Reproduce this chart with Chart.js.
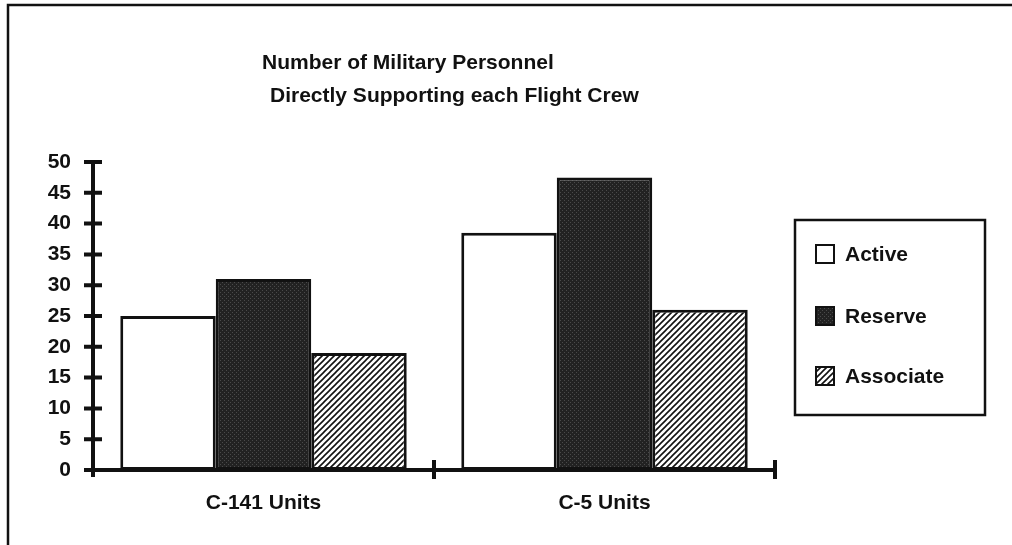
<!DOCTYPE html>
<html>
<head>
<meta charset="utf-8">
<script src="https://cdn.jsdelivr.net/npm/chart.js@4"></script>
<style>
  body { margin: 0; background: #fff; }
  canvas { display: block; }
</style>
</head>
<body>
<canvas id="myChart" width="1012" height="545"></canvas>
<script>
  const categories = ['C-141 Units', 'C-5 Units'];
  const seriesNames = ['Active', 'Reserve', 'Associate'];
  const active = [25, 38.5];
  const reserve = [31, 47.5];
  const associate = [19, 26];
  const yTicks = [0, 5, 10, 15, 20, 25, 30, 35, 40, 45, 50];
  const titleLines = ['Number of Military Personnel', 'Directly Supporting each Flight Crew'];

  const FONT = '"Liberation Sans", Arial, sans-serif';

  // fill textures
  function dotPattern() {
    const c = document.createElement('canvas');
    c.width = 4; c.height = 4;
    const g = c.getContext('2d');
    g.fillStyle = '#222';
    g.fillRect(0, 0, 4, 4);
    g.fillStyle = '#4a4a4a';
    g.fillRect(0, 0, 1, 1);
    g.fillRect(2, 2, 1, 1);
    return g.createPattern(c, 'repeat');
  }
  function hatchPattern() {
    const s = 6;
    const c = document.createElement('canvas');
    c.width = s; c.height = s;
    const g = c.getContext('2d');
    g.fillStyle = '#fff';
    g.fillRect(0, 0, s, s);
    g.strokeStyle = '#111';
    g.lineWidth = 1.6;
    g.beginPath();
    g.moveTo(-1, s + 1); g.lineTo(s + 1, -1);
    g.moveTo(-1, 1); g.lineTo(1, -1);
    g.moveTo(s - 1, s + 1); g.lineTo(s + 1, s - 1);
    g.stroke();
    return g.createPattern(c, 'repeat');
  }
  const fills = ['#ffffff', dotPattern(), hatchPattern()];

  const decor = {
    id: 'decor',
    beforeDraw(chart) {
      const ctx = chart.ctx;
      ctx.save();
      ctx.fillStyle = '#fff';
      ctx.fillRect(0, 0, chart.width, chart.height);
      // page frame (top and left only)
      ctx.strokeStyle = '#111';
      ctx.lineWidth = 2.5;
      ctx.beginPath();
      ctx.moveTo(8, chart.height);
      ctx.lineTo(8, 5);
      ctx.lineTo(chart.width, 5);
      ctx.stroke();
      // title
      ctx.fillStyle = '#111';
      ctx.font = 'bold 21px ' + FONT;
      ctx.textBaseline = 'alphabetic';
      ctx.fillText(titleLines[0], 262, 69);
      ctx.fillText(titleLines[1], 270, 102);
      ctx.restore();
    },
    afterDraw(chart) {
      const ctx = chart.ctx;
      const x = chart.scales.x, y = chart.scales.y;
      const a = chart.chartArea;
      ctx.save();
      ctx.strokeStyle = '#111';
      ctx.lineWidth = 4;
      ctx.beginPath();
      // y axis extends a little below the x axis
      ctx.moveTo(a.left, a.bottom);
      ctx.lineTo(a.left, a.bottom + 7);
      // crossing tick marks on y axis
      yTicks.forEach(v => {
        const py = y.getPixelForValue(v);
        ctx.moveTo(a.left - 9, py);
        ctx.lineTo(a.left + 9, py);
      });
      // category dividers on x axis
      const mid = (x.getPixelForValue(0) + x.getPixelForValue(1)) / 2;
      [mid, a.right].forEach(px => {
        ctx.moveTo(px, a.bottom - 10);
        ctx.lineTo(px, a.bottom + 9);
      });
      ctx.stroke();

      // legend box
      ctx.lineWidth = 2.5;
      ctx.strokeRect(795, 220, 190, 195);
      const rows = [254, 316, 376];
      ctx.font = 'bold 21px ' + FONT;
      ctx.textBaseline = 'middle';
      chart.data.datasets.forEach((ds, i) => {
        const cy = rows[i];
        ctx.fillStyle = ds.backgroundColor;
        ctx.fillRect(816, cy - 9, 18, 18);
        ctx.lineWidth = 2;
        ctx.strokeRect(816, cy - 9, 18, 18);
        ctx.fillStyle = '#111';
        ctx.fillText(ds.label, 845, cy + 1);
      });
      ctx.restore();
    }
  };

  const data = {
    labels: categories,
    datasets: [
      { label: seriesNames[0], data: active, backgroundColor: fills[0] },
      { label: seriesNames[1], data: reserve, backgroundColor: fills[1] },
      { label: seriesNames[2], data: associate, backgroundColor: fills[2] }
    ].map(ds => Object.assign(ds, {
      borderColor: '#111',
      borderWidth: 3,
      borderSkipped: false,
      barPercentage: 1,
      categoryPercentage: 0.84
    }))
  };

  const config = {
    type: 'bar',
    data: data,
    options: {
      responsive: false,
      animation: false,
      events: [],
      layout: { padding: { top: 162, left: 0, right: 237, bottom: 0 } },
      plugins: {
        legend: { display: false },
        title: { display: false },
        tooltip: { enabled: false }
      },
      scales: {
        x: {
          grid: { display: false, drawTicks: false },
          border: { display: true, color: '#111', width: 4 },
          ticks: { color: '#111', font: { family: FONT, size: 21, weight: 'bold' }, padding: 21 },
          afterFit(s) { s.height = 75; }
        },
        y: {
          min: 0,
          max: 50,
          grid: { display: false, drawTicks: false },
          border: { display: true, color: '#111', width: 4 },
          ticks: {
            stepSize: 5,
            color: '#111',
            padding: 22,
            font: { family: FONT, size: 21, weight: 'bold' }
          },
          afterFit(s) { s.width = 93; }
        }
      }
    },
    plugins: [decor]
  };

  const myChart = new Chart(document.getElementById('myChart'), config);
</script>
</body>
</html>
